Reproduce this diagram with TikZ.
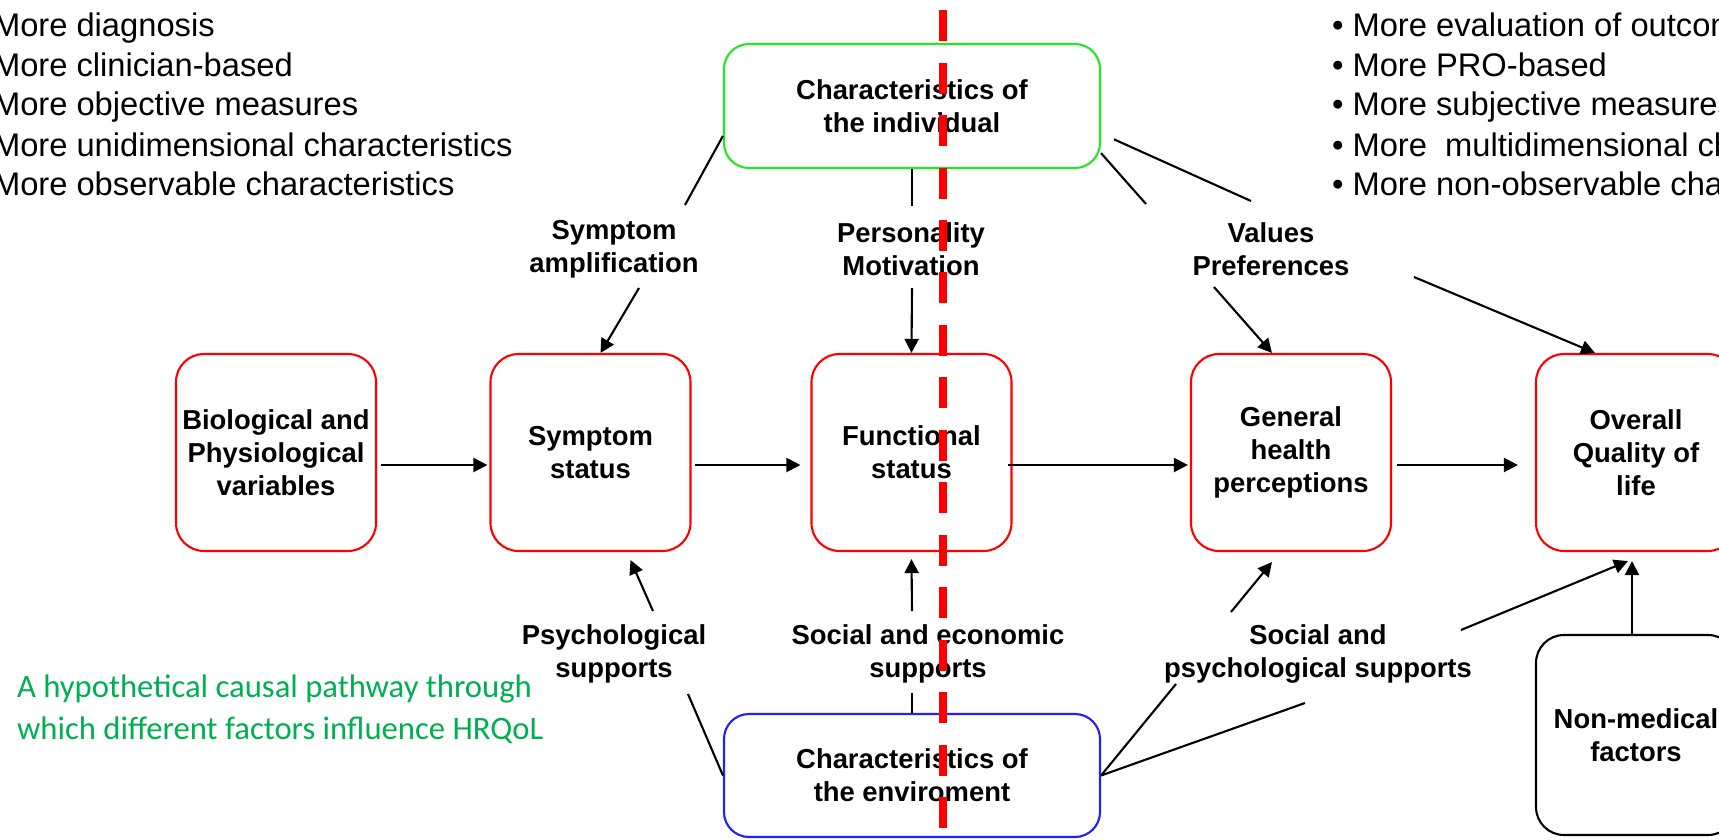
\documentclass[tikz,border=0pt]{standalone}
\usepackage{fontspec}
\setmainfont{Liberation Sans}
\newfontfamily\notefont{Carlito}
\usepackage{xcolor}
\usetikzlibrary{arrows.meta,positioning}
\definecolor{notegreen}{HTML}{00B050}
\definecolor{boxgreen}{HTML}{22E822}
\definecolor{boxblue}{HTML}{1F1FFF}
\newcommand{\lblfont}{\fontsize{7.8}{9.4}\selectfont\bfseries}
\newcommand{\lstfont}{\fontsize{9.3}{11.4}\selectfont}

\begin{document}
\begin{tikzpicture}[>={Triangle[length=4pt,width=4pt]},line width=0.6pt,
  stage/.style={draw=red,rounded corners=0.28cm,minimum width=2cm,minimum height=1.97cm,inner sep=1pt,align=center,font=\lblfont},
  charbox/.style={rounded corners=0.25cm,minimum width=3.76cm,minimum height=1.24cm,align=center,font=\lblfont},
  lbl/.style={align=center,font=\lblfont,inner sep=0pt},
  lst/.style={font=\lstfont,inner sep=0pt,anchor=base west}]
  \useasboundingbox (0,0) rectangle (17.19,8.39);
  \clip (0,0) rectangle (17.19,8.39);

  % Lists
  \foreach \t [count=\i] in {More diagnosis,More clinician-based,More objective measures,More unidimensional characteristics,More observable characteristics}
    \node[lst] (lft\i) at (-0.08,8.43-0.4*\i) {\t};
  \foreach \t [count=\i] in {More evaluation of outcomes,More PRO-based,More subjective measures,More~ multidimensional characteristics,More non-observable characteristics}
    \node[lst] (rgt\i) at (13.31,8.43-0.4*\i) {\textbullet\ \t};

  % Note
  \node[anchor=base west,align=left,inner sep=0pt,text=notegreen,font=\notefont\fontsize{9.3}{11.95}\selectfont] (note) at (0.16,1.0)
    {A hypothetical causal pathway through\\which different factors influence HRQoL};

  % Stages
  \node[stage] (bio) at (2.76,3.865) {Biological and\\Physiological\\variables};
  \node[stage] (symp) at (5.905,3.865) {Symptom\\status};
  \node[stage] (func) at (9.115,3.865) {Functional\\status};
  \node[stage] (gen) at (12.91,3.865) {General\\health\\perceptions};
  \node[stage] (ovr) at (16.36,3.865) {Overall\\Quality of\\life};
  \node[stage,draw=black,minimum height=2cm] (nonmed) at (16.36,1.04) {Non-medical\\factors};

  \node[charbox,draw=boxgreen] (indiv) at (9.12,7.33) {Characteristics of\\the individual};
  \node[charbox,draw=boxblue,minimum height=1.23cm] (env) at (9.12,0.635) {Characteristics of\\the enviroment};

  % Labels
  \node[lbl] (amp) at (6.14,5.9) {Symptom\\amplification};
  \node[lbl] (pers) at (9.11,5.9) {Personality\\Motivation};
  \node[lbl] (val) at (12.71,5.9) {Values\\Preferences};
  \node[lbl] (psy) at (6.14,1.85) {Psychological\\supports};
  \node[lbl] (soc) at (9.28,1.85) {Social and economic\\supports};
  \node[lbl] (socpsy) at (13.18,1.85) {Social and\\psychological supports};

  % Break points
  \coordinate (a1) at (6.85,6.34);  \coordinate (a2) at (6.39,5.51);
  \coordinate (p1) at (9.12,6.33);  \coordinate (p2) at (9.12,5.51);
  \coordinate (v1) at (11.46,6.35); \coordinate (v2) at (12.14,5.52);
  \coordinate (w1) at (12.51,6.38); \coordinate (w2) at (14.14,5.62);
  \coordinate (s1) at (6.88,1.45);  \coordinate (s2) at (6.53,2.28);
  \coordinate (e1) at (9.12,1.46);  \coordinate (e2) at (9.12,2.28);
  \coordinate (g1) at (11.76,1.55); \coordinate (g2) at (12.31,2.27);
  \coordinate (q1) at (13.05,1.36); \coordinate (q2) at (14.61,2.09);

  % Main pathway
  \draw[->] ([xshift=0.04cm,yshift=-0.125cm]bio.east) -- ([xshift=-0.02cm,yshift=-0.125cm]symp.west);
  \draw[->] ([xshift=0.035cm,yshift=-0.125cm]symp.east) -- ([xshift=-0.1cm,yshift=-0.125cm]func.west);
  \draw[->] ([xshift=-0.05cm,yshift=-0.125cm]func.east) -- ([xshift=-0.02cm,yshift=-0.125cm]gen.west);
  \draw[->] ([xshift=0.05cm,yshift=-0.125cm]gen.east) -- ([xshift=-0.17cm,yshift=-0.125cm]ovr.west);

  % From the individual
  \draw (indiv.189) -- (a1);
  \draw[->] (a2) -- ([xshift=0.1cm]symp.north);
  \draw (indiv.south) -- (p1);
  \draw[->] (p2) -- (func.north);
  \draw (indiv.-14) -- (v1);
  \draw[->] (v2) -- ([xshift=-0.19cm]gen.north);
  \draw ([xshift=0.13cm]indiv.-10) -- (w1);
  \draw[->] (w2) -- ([xshift=-0.41cm]ovr.north);

  % From the environment
  \draw (env.west) -- (s1);
  \draw[->] (s2) -- ([xshift=0.4cm,yshift=-0.08cm]symp.south);
  \draw (env.north) -- (e1);
  \draw[->] (e2) -- ([yshift=-0.07cm]func.south);
  \draw (env.east) -- (g1);
  \draw[->] (g2) -- ([xshift=-0.19cm,yshift=-0.1cm]gen.south);
  \draw (env.east) -- (q1);
  \draw[->] (q2) -- ([xshift=-0.08cm,yshift=-0.09cm]ovr.south);
  \draw[->] ([xshift=-0.04cm]nonmed.north) -- ([xshift=-0.04cm,yshift=-0.09cm]ovr.south);

  % Dividing line
  \draw[red,line width=2pt,dash pattern=on 0.31cm off 0.215cm] (9.43,8.29) -- (9.43,0);
\end{tikzpicture}
\end{document}
